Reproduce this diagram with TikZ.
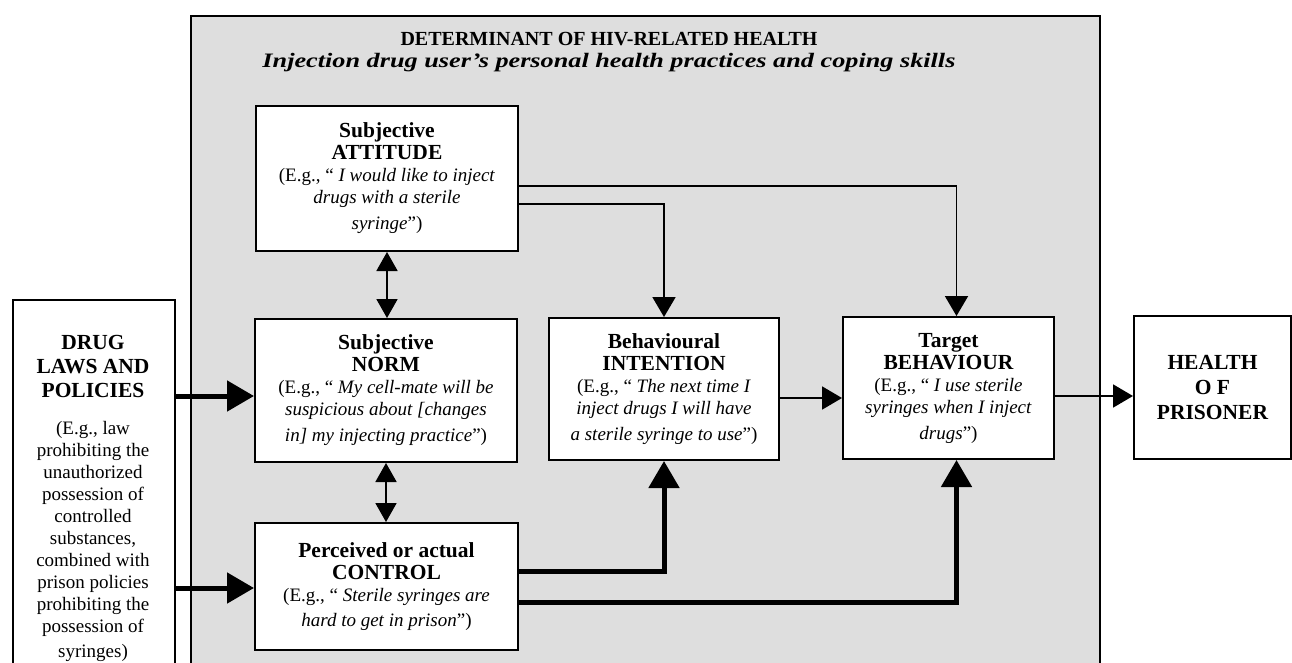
\documentclass[tikz,border=0pt]{standalone}
\usepackage{fontspec}
\setmainfont{Liberation Serif}
\newfontfamily\widebolditalic[FakeStretch=1.28]{Liberation Serif Bold Italic}
\usetikzlibrary{arrows.meta}

\newcommand{\headfont}{\fontsize{21.5}{22}\selectfont\bfseries}

\tikzset{
  panel/.style={draw=black, line width=2pt, fill=white, inner sep=0pt,
    anchor=north west, align=center, font=\fontsize{19}{22}\selectfont},
  thinarr/.style={line width=1.9pt, -{Triangle[length=20pt,width=23pt]}},
  bothway/.style={line width=1.9pt,
    {Triangle[length=19pt,width=21pt]}-{Triangle[length=19pt,width=21pt]}},
  thickarr/.style={line width=5pt, -{Triangle[length=27pt,width=30pt]}},
}

\begin{document}
\begin{tikzpicture}[x=1pt,y=-1pt]
\useasboundingbox (0,0) rectangle (1292,662);

% shaded determinant area
\node[draw=black, line width=2pt, fill=black!13, inner sep=0pt, anchor=north west,
  minimum width=909pt, minimum height=700pt] (det) at (190,15) {};
\node[font=\fontsize{20}{22}\selectfont\bfseries, anchor=base] (title) at (609,45)
  {DETERMINANT OF HIV-RELATED HEALTH};
\node[font=\fontsize{20.5}{22}\widebolditalic, anchor=base] (subtitle) at (609,67)
  {Injection drug user’s personal health practices and coping skills};

% outer boxes
\node[draw=black, line width=2pt, fill=white, inner sep=0pt, anchor=north west,
  minimum width=162pt, minimum height=420pt] (drug) at (12,299) {};
\node[anchor=north, align=center, inner sep=0pt, font=\fontsize{19}{22}\selectfont]
  (drugtext) at (93,335)
  {{\headfont DRUG}\\[2pt] {\headfont LAWS AND}\\[2pt] {\headfont POLICIES}\\[15pt]
   (E.g., law\\ prohibiting the\\ unauthorized\\ possession of\\ controlled\\
   substances,\\ combined with\\ prison policies\\ prohibiting the\\ possession of\\[3pt]
   syringes)};

\node[panel, minimum width=157pt, minimum height=143pt] (health) at (1133,315)
  {{\headfont HEALTH}\\[3pt] {\headfont O F}\\[3pt] {\headfont PRISONER}};

% theory-of-planned-behaviour boxes
\node[panel, minimum width=262pt, minimum height=145pt] (att) at (255,105)
  {{\headfont Subjective}\\ {\headfont ATTITUDE}\\
   (E.g., “ \textit{I would like to inject}\\ \textit{drugs with a sterile}\\[4pt]
   \textit{syringe}”)};

\node[panel, minimum width=262pt, minimum height=143pt] (norm) at (254,318)
  {{\headfont Subjective}\\ {\headfont NORM}\\
   (E.g., “ \textit{My cell-mate will be}\\ \textit{suspicious about [changes}\\[4pt]
   \textit{in] my injecting practice}”)};

\node[panel, minimum width=263pt, minimum height=127pt] (ctrl) at (254,522)
  {{\headfont Perceived or actual}\\ {\headfont CONTROL}\\
   (E.g., “ \textit{Sterile syringes are}\\[3pt] \textit{hard to get in prison}”)};

\node[panel, minimum width=230pt, minimum height=142pt] (int) at (548,317)
  {{\headfont Behavioural}\\ {\headfont INTENTION}\\
   (E.g., “ \textit{The next time I}\\ \textit{inject drugs I will have}\\[4pt]
   \textit{a sterile syringe to use}”)};

\node[panel, minimum width=211pt, minimum height=142pt] (beh) at (842,316)
  {{\headfont Target}\\ {\headfont BEHAVIOUR}\\
   (E.g., “ \textit{I use sterile}\\ \textit{syringes when I inject}\\[4pt]
   \textit{drugs}”)};

% connectors
\draw[bothway] (att.south) -- (att.south |- norm.north);
\draw[bothway] (norm.south) -- (norm.south |- ctrl.north);

\draw[thinarr] ([yshift=-25.5pt]att.east) -| (int.north);
\draw[thinarr] ([yshift=-7.5pt]att.east) -| ([xshift=8pt]beh.north);

\coordinate (ib) at ([yshift=-9pt]int.east);
\draw[thinarr] (ib) -- (ib -| beh.west);
\coordinate (bh) at ([yshift=-8pt]beh.east);
\draw[thinarr] (bh) -- (bh -| health.west);

\coordinate (dn) at ([yshift=-5.5pt]norm.west);
\draw[thickarr] (dn -| drug.east) -- (dn);
\coordinate (dc) at ([yshift=-1.5pt]ctrl.west);
\draw[thickarr] (dc -| drug.east) -- (dc);

\draw[thickarr] ([yshift=15.5pt]ctrl.east) -| (int.south);
\draw[thickarr] ([yshift=-15.5pt]ctrl.east) -| ([xshift=8pt]beh.south);
\end{tikzpicture}
\end{document}
